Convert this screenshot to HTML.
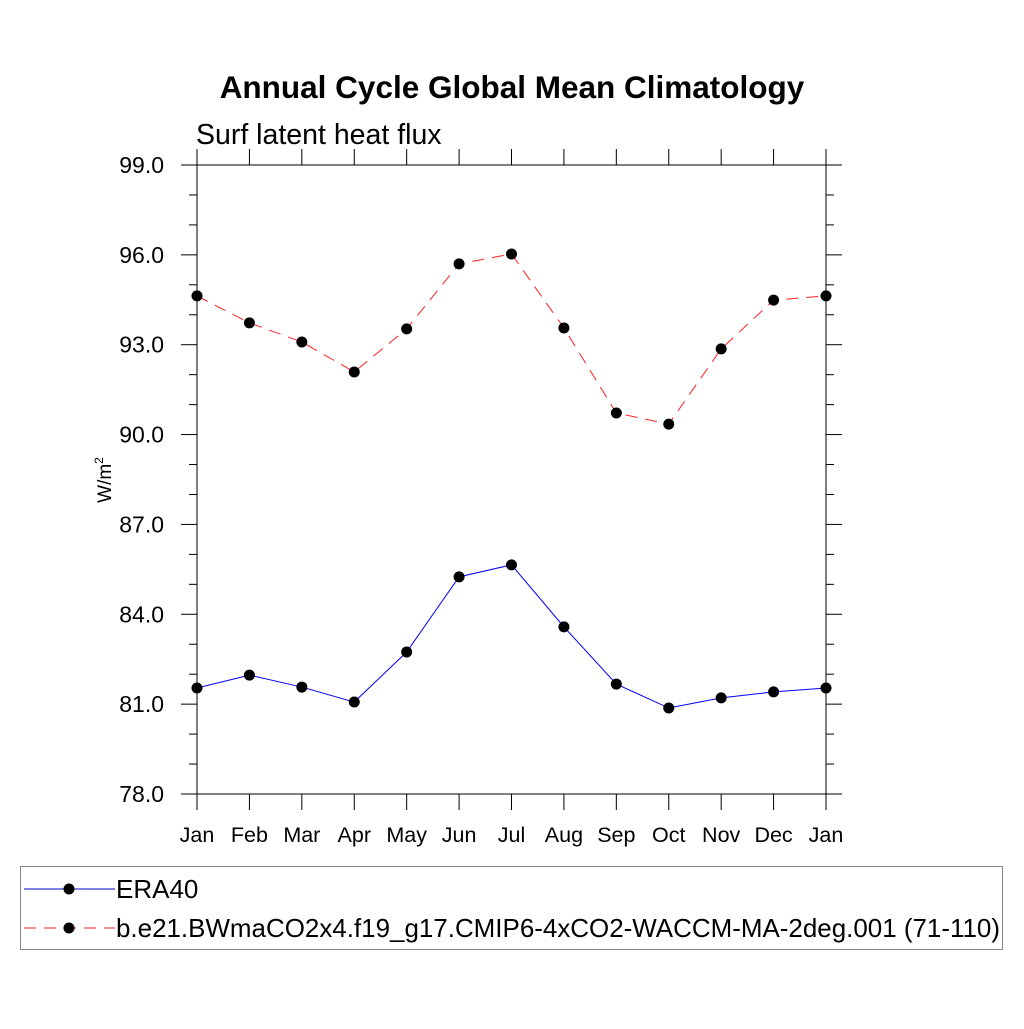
<!DOCTYPE html>
<html><head><meta charset="utf-8"><style>
body{margin:0;background:#fff}
svg text{font-family:"Liberation Sans",sans-serif}
</style></head><body>
<svg id="c" width="1024" height="1024" xmlns="http://www.w3.org/2000/svg">
<rect width="1024" height="1024" fill="#fff"/>
<text x="512" y="98" text-anchor="middle" font-size="31.5" font-weight="bold">Annual Cycle Global Mean Climatology</text>
<text x="196" y="144" font-size="28.5">Surf latent heat flux</text>
<text transform="translate(111,480) rotate(-90)" text-anchor="middle" font-size="19">W/m<tspan font-size="12" dy="-8">2</tspan></text>
<g id="axes"></g><g id="series"></g>
<rect x="20.5" y="866.5" width="982" height="83" fill="none" stroke="#888" stroke-width="1"/>
<line x1="24" y1="889" x2="115" y2="889" stroke="#0000cc" stroke-width="1"/>
<circle cx="69" cy="889" r="5.5" fill="#000"/>
<text x="116" y="898" font-size="26">ERA40</text>
<line x1="24" y1="928" x2="115" y2="928" stroke="#ff2020" stroke-width="1" stroke-dasharray="12,8"/>
<circle cx="69" cy="928" r="5.5" fill="#000"/>
<text x="116" y="937" font-size="26" textLength="884" lengthAdjust="spacingAndGlyphs">b.e21.BWmaCO2x4.f19_g17.CMIP6-4xCO2-WACCM-MA-2deg.001 (71-110)</text>
</svg>
<script>
const months=["Jan","Feb","Mar","Apr","May","Jun","Jul","Aug","Sep","Oct","Nov","Dec","Jan"];
const era40=[81.54,81.97,81.57,81.07,82.74,85.25,85.65,83.58,81.67,80.87,81.21,81.41,81.54];
const model=[94.63,93.73,93.09,92.09,93.53,95.70,96.03,93.56,90.72,90.35,92.86,94.49,94.63];
const yTicks=[78,81,84,87,90,93,96,99];
const yTickLabels=["78.0","81.0","84.0","87.0","90.0","93.0","96.0","99.0"];
const X0=197,X1=826,Y0=794,Y1=165,YMIN=78,YMAX=99;
const xs=i=>X0+(X1-X0)*i/(months.length-1);
const ys=v=>Y0-(v-YMIN)/(YMAX-YMIN)*(Y0-Y1);
const NS="http://www.w3.org/2000/svg";
const ax=document.getElementById('axes'),se=document.getElementById('series');
function mk(tag,at,par){const e=document.createElementNS(NS,tag);for(const k in at)e.setAttribute(k,at[k]);par.appendChild(e);return e;}
const fr=mk('rect',{x:X0,y:Y1,width:X1-X0,height:Y0-Y1,fill:'none',stroke:'#000','stroke-width':1},ax);


for(let v=YMIN;v<=YMAX;v+=1){const major=yTicks.includes(v);const L=major?16:8;const y=ys(v);
 const t1=mk('line',{x1:X0-L,y1:y,x2:X0,y2:y,stroke:'#000','stroke-width':1},ax);
 
 
 const t2=mk('line',{x1:X1,y1:y,x2:X1+L,y2:y,stroke:'#000','stroke-width':1},ax);
 
 }
yTicks.forEach((v,i)=>{const t=mk('text',{x:X0-33,y:ys(v)+8,'text-anchor':'end','font-size':23},ax);t.textContent=yTickLabels[i];
 
 });
months.forEach((m,i)=>{const x=xs(i);
 const a=mk('line',{x1:x,y1:Y0,x2:x,y2:Y0+16,stroke:'#000','stroke-width':1},ax);
 
 
 const b=mk('line',{x1:x,y1:Y1-16,x2:x,y2:Y1,stroke:'#000','stroke-width':1},ax);
 
 
 const t=mk('text',{x:x,y:Y0+48,'text-anchor':'middle','font-size':21.5},ax);t.textContent=m;
 
 });
function draw(vals,color,dash,name){
 const p=mk('polyline',{points:vals.map((v,i)=>xs(i)+','+ys(v)).join(' '),fill:'none',stroke:color,'stroke-width':1,'stroke-dasharray':dash},se);
 
 
 vals.forEach((v,i)=>{const c=mk('circle',{cx:xs(i),cy:ys(v),r:5.5,fill:'#000'},se);
 
 });}
draw(era40,'#0000ff','none','era40');
draw(model,'#ff2020','12,8','model');
</script>
</body></html>
